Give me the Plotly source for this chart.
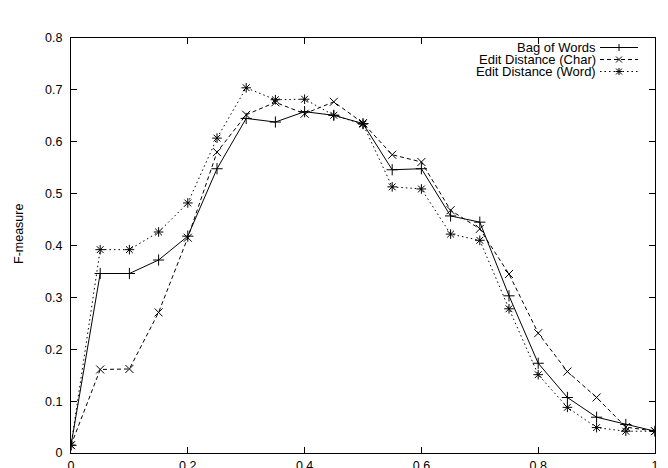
import plotly.graph_objects as go

x_vals = [0.0, 0.05, 0.1, 0.15, 0.2, 0.25, 0.3, 0.35, 0.4, 0.45, 0.5,
          0.55, 0.6, 0.65, 0.7, 0.75, 0.8, 0.85, 0.9, 0.95, 1.0]

bag_of_words = [0.015, 0.346, 0.346, 0.372, 0.418, 0.548, 0.645, 0.638, 0.658, 0.651, 0.635,
                0.546, 0.548, 0.457, 0.445, 0.303, 0.173, 0.107, 0.069, 0.055, 0.042]
edit_char = [0.015, 0.161, 0.162, 0.271, 0.415, 0.580, 0.652, 0.676, 0.654, 0.677, 0.636,
             0.575, 0.561, 0.468, 0.432, 0.345, 0.231, 0.157, 0.107, 0.050, 0.042]
edit_word = [0.015, 0.392, 0.392, 0.426, 0.482, 0.607, 0.704, 0.681, 0.682, 0.651, 0.634,
             0.513, 0.509, 0.422, 0.410, 0.278, 0.151, 0.088, 0.049, 0.042, 0.042]

series_names = ["Bag of Words", "Edit Distance (Char)", "Edit Distance (Word)"]
x_ticks = [0, 0.2, 0.4, 0.6, 0.8, 1]
y_ticks = [0, 0.1, 0.2, 0.3, 0.4, 0.5, 0.6, 0.7, 0.8]

FONT = "Liberation Sans, Arial, Helvetica, sans-serif"
FS = 12.5
FS_KEY = 13

styles = [
    dict(dash="solid", symbol="cross-thin"),
    dict(dash="4px,3px", symbol="x-thin"),
    dict(dash="1.5px,3px", symbol="asterisk"),
]

fig = go.Figure()
for name, ys, st in zip(series_names, [bag_of_words, edit_char, edit_word], styles):
    fig.add_trace(go.Scatter(
        x=x_vals, y=ys, name=name, mode="lines+markers",
        line=dict(color="black", width=1, dash=st["dash"]),
        marker=dict(symbol=st["symbol"], size=8, color="black",
                    line=dict(color="black", width=1)),
        showlegend=False,
    ))

L, R, T, B = 71, 655, 38, 453
W, H = 668, 468

axis_common = dict(
    showline=True, linecolor="black", linewidth=1, mirror="ticks",
    ticks="inside", ticklen=6, tickcolor="black", tickwidth=1,
    showgrid=False, zeroline=False, automargin=False,
    tickfont=dict(family=FONT, size=FS, color="black"),
)

fig.update_layout(
    width=W, height=H,
    margin=dict(l=L, r=W - R, t=T, b=H - B, pad=0, autoexpand=False),
    paper_bgcolor="white", plot_bgcolor="white",
    xaxis=dict(range=[0, 1], tickvals=x_ticks, ticklabelstandoff=1, **axis_common),
    yaxis=dict(range=[0, 0.8], tickvals=y_ticks, ticklabelstandoff=5, **axis_common),
    font=dict(family=FONT, size=FS, color="black"),
)

# y-axis title
fig.add_annotation(text="F-measure", xref="paper", yref="paper",
                   x=(19 - L) / (R - L), y=(B - 234) / (B - T),
                   xanchor="center", yanchor="middle",
                   textangle=-90, showarrow=False,
                   font=dict(family=FONT, size=FS, color="black"))

# gnuplot-style key (text on left, sample on right)
def px(xp):
    return (xp - L) / (R - L)

def py(yp):
    return (B - yp) / (B - T)

rows = [47.5, 59.5, 71.5]
marker_paths = [
    "M-3.5,0 L3.5,0 M0,-3.5 L0,3.5",
    "M-3,-3 L3,3 M-3,3 L3,-3",
    "M-3.5,0 L3.5,0 M0,-3.5 L0,3.5 M-3,-3 L3,3 M-3,3 L3,-3",
]
for name, st, ry, mp in zip(series_names, styles, rows, marker_paths):
    fig.add_annotation(text=name, xref="paper", yref="paper",
                       x=px(597), y=py(ry), xanchor="right", yanchor="middle",
                       showarrow=False, borderpad=0,
                       font=dict(family=FONT, size=FS_KEY, color="black"))
    fig.add_shape(type="line", xref="paper", yref="paper",
                  x0=px(600), x1=px(638), y0=py(ry), y1=py(ry),
                  line=dict(color="black", width=1, dash=st["dash"]))
    fig.add_shape(type="path", xref="paper", yref="paper",
                  xsizemode="pixel", ysizemode="pixel",
                  xanchor=px(619), yanchor=py(ry), path=mp,
                  line=dict(color="black", width=1))

fig.write_html(
    "out.html",
    config={"displayModeBar": False},
    post_script="document.body.style.margin='0px';document.body.style.overflow='hidden';",
)
